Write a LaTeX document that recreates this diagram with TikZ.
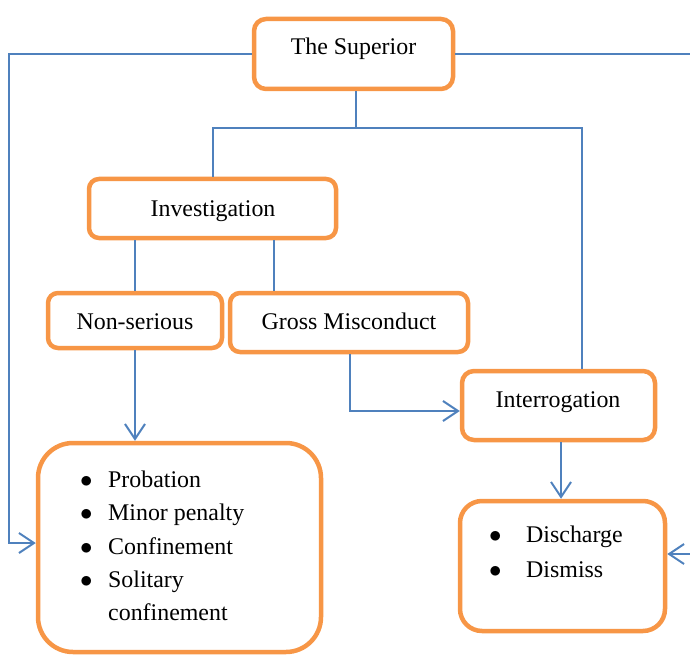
\documentclass[tikz,border=0pt]{standalone}
\usepackage{fontspec}
\setmainfont{Liberation Serif}
\usetikzlibrary{arrows.meta}
\definecolor{borange}{HTML}{F79646}
\definecolor{cblue}{HTML}{4F81BD}
\newcommand{\mybul}{$\bullet$}
\begin{document}
\begin{tikzpicture}[x=1pt,y=-1pt,
  box/.style={draw=borange, line width=4.5pt, rounded corners=#1, fill=white, inner sep=0pt},
  box/.default=10pt,
  txt/.style={anchor=base, inner sep=0pt, font=\fontsize{23.9}{33.4}\selectfont},
  conn/.style={draw=cblue, line width=2pt},
  arr/.style={conn, -{Straight Barb[length=15pt,width=20pt]}}]
\useasboundingbox (0,0) rectangle (690,655);

% boxes
\node[box=12pt, minimum width=199pt, minimum height=70pt] (sup) at (353.5,54) {};
\node[box=10pt, minimum width=247pt, minimum height=59pt] (inv) at (212.5,208.5) {};
\node[box=10pt, minimum width=174pt, minimum height=55pt] (non) at (135,320.5) {};
\node[box=10pt, minimum width=238pt, minimum height=59pt] (gross) at (349,322.5) {};
\node[box=12pt, minimum width=193pt, minimum height=69pt] (intr) at (558.5,405.5) {};
\node[box=35pt, minimum width=283pt, minimum height=209pt] (pen) at (179.5,547.5) {};
\node[box=22pt, minimum width=205pt, minimum height=130pt] (dis) at (562.5,566) {};

% texts
\node[txt] (supt) at (353.5,55) {The Superior};
\node[txt] (invt) at (213,216) {Investigation};
\node[txt] (nont) at (135,329) {Non-serious};
\node[txt] (grosst) at (349,329) {Gross Misconduct};
\node[txt] (intrt) at (558,407.7) {Interrogation};
\node[txt, anchor=base west] (pent) at (80,487.3)
  {\begin{tabular}[t]{@{}p{28pt}@{}l@{}}
   \mybul & Probation\\
   \mybul & Minor penalty\\
   \mybul & Confinement\\
   \mybul & Solitary\\
          & confinement
   \end{tabular}};
\node[txt, anchor=base west, font=\fontsize{23.9}{35}\selectfont] (dist) at (489,542.7)
  {\begin{tabular}[t]{@{}p{37pt}@{}l@{}}
   \mybul & Discharge\\
   \mybul & Dismiss
   \end{tabular}};

% helper coordinates
\coordinate (j) at (356,128);
\coordinate (xr) at (582,128);
\coordinate (xg) at (274,0);
\coordinate (ga) at (350,411);
\coordinate (lx) at (8.5,543);
\coordinate (rx) at (692,554);

% connectors
\draw[conn] (j |- sup.south) -- (j);
\draw[conn] (j) -| (inv.north);
\draw[conn] (j) -- (xr) -- (xr |- intr.north);
\draw[conn] (inv.south -| non.north) -- (non.north);
\draw[conn] (xg |- inv.south) -- (xg |- gross.north);
\draw[arr] (non.south) -- (non.south |- pen.north);
\draw[arr] (ga |- gross.south) -- (ga) -- (ga -| intr.west);
\draw[arr] (intr.south -| 561,0) -- (dis.north -| 561,0);
\draw[arr] (sup.west) -- (sup.west -| lx) -- (lx) -- (lx -| pen.west);
\draw[arr] (sup.east) -- (sup.east -| rx) -- (rx) -- (rx -| dis.east);
\end{tikzpicture}
\end{document}
